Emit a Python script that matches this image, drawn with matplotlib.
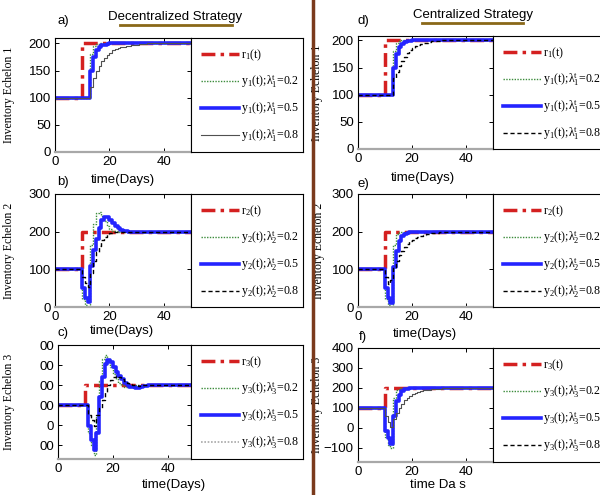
import matplotlib
matplotlib.use("Agg")
import matplotlib.pyplot as plt
from matplotlib.lines import Line2D

plt.rcParams['font.family'] = 'Liberation Sans'
plt.rcParams['mathtext.fontset'] = 'custom'
plt.rcParams['mathtext.rm'] = 'Liberation Serif'
plt.rcParams['mathtext.it'] = 'Liberation Serif'

# time axis (days)
t = list(range(51))

# a) decentralized, echelon 1
a_r = [100]*10 + [200]*41
a_02 = [100]*13 + [180, 196, 199] + [200]*35
a_05 = [100]*13 + [150, 175, 188, 194, 197, 198, 199] + [200]*31
a_08 = [100]*13 + [120, 136, 149, 159, 167, 174, 179, 183, 187, 189, 191, 193,
                   194, 196, 196, 197, 198, 198, 199, 199, 199] + [200]*17

# b) decentralized, echelon 2
b_r = [100]*10 + [200]*41
b_02 = [100]*10 + [20, 4, 0, 165, 220, 250, 253, 242, 228, 216, 208, 203, 201] + [200]*28
b_05 = [100]*10 + [50, 25, 12, 110, 152, 180, 210, 232, 240, 238, 232, 224, 216,
                   210, 205, 202, 201] + [200]*24
b_08 = [100]*10 + [80, 65, 52, 90, 122, 145, 163, 177, 187, 193, 196, 198, 199] + [200]*28

# c) decentralized, echelon 3
c_r = [100]*10 + [200]*41
c_02 = [100]*11 + [-40, -100, -150, 40, 220, 330, 352, 330, 290, 255, 228, 210, 198,
                   192, 190, 192, 195, 198, 199] + [200]*21
c_05 = [100]*11 + [-7, -73, -123, -40, 140, 240, 305, 325, 315, 290, 265, 245, 228,
                   212, 200, 192, 188, 186, 187, 190, 193, 196, 198, 199] + [200]*16
c_08 = [100]*11 + [52, 27, -7, 50, 85, 127, 165, 202, 227, 240, 243, 238, 228, 218,
                   210, 204, 200, 198, 197, 198, 199] + [200]*19

# d) centralized, echelon 1
d_r = [100]*10 + [200]*41
d_02 = [100]*13 + [180, 196, 199] + [200]*35
d_05 = [100]*13 + [150, 175, 188, 194, 197, 198, 199] + [200]*31
d_08 = [100]*13 + [130, 142, 153, 162, 170, 177, 182, 186, 189, 192, 194, 195, 196,
                   197, 198, 198, 199, 199] + [200]*20

# e) centralized, echelon 2
e_r = [100]*10 + [200]*41
e_02 = [100]*10 + [20, 4, 0, 165, 195, 199] + [200]*35
e_05 = [100]*10 + [50, 25, 10, 105, 150, 175, 188, 194, 197, 199] + [200]*31
e_08 = [100]*10 + [80, 62, 72, 105, 122, 137, 149, 159, 167, 174, 179, 183, 187, 189,
                   191, 193, 194, 196, 196, 197, 198, 198, 199, 199, 199] + [200]*16

# f) centralized, echelon 3
f_r = [100]*10 + [200]*41
f_02 = [100]*10 + [-45, -85, -100, 150, 190, 198] + [200]*35
f_05 = [100]*10 + [-15, -50, -80, 60, 135, 165, 185, 193, 197, 199] + [200]*31
f_08 = [100]*10 + [60, 30, 5, 45, 75, 100, 120, 140, 152, 162, 170, 176, 181, 185,
                   188, 190, 192, 194, 195, 196, 197, 198, 198, 199, 199] + [200]*16

lambdas = ['0.2', '0.5', '0.8']

RED = dict(color='#d42020', lw=2.5, ls=(0, (4, 1.5, 1, 1.5)))
GREEN = dict(color='#3c8c3c', lw=1.0, ls=(0, (1, 1)))
BLUE = dict(color='#2424ff', lw=2.6, ls='-')
DASH = dict(color='black', lw=1.0, ls=(0, (3, 2)))
THIN = dict(color='#505050', lw=0.8, ls='-')
GRAYDOT = dict(color='#a8a8a8', lw=1.2, ls=(0, (1, 1)))

W, H = 600, 495
fig = plt.figure(figsize=(6, 4.95), dpi=100)


def px_axes(l, tp, r, b):
    return fig.add_axes([l / W, 1 - b / H, (r - l) / W, (b - tp) / H])


yt1 = [0, 50, 100, 150, 200]
yt2 = [0, 100, 200, 300]
yt3 = [-100, 0, 100, 200, 300, 400]

panels = [
    dict(k='a)', d=(a_r, a_02, a_05, a_08), n=1, box=(55, 38, 191, 152), lr=303,
         ylim=(0, 210), yt=yt1, ytl=None, s8=THIN, l8=THIN,
         xl='time(Days)', xlp=(123, 180), kp=(63, 21), ylx=15, xlim=(0, 50)),
    dict(k='b)', d=(b_r, b_02, b_05, b_08), n=2, box=(55, 194, 191, 307), lr=303,
         ylim=(0, 300), yt=yt2, ytl=None, s8=DASH, l8=DASH,
         xl='time(Days)', xlp=(122, 331), kp=(63, 182), ylx=15, xlim=(0, 50)),
    dict(k='c)', d=(c_r, c_02, c_05, c_08), n=3, box=(58, 345, 191, 459), lr=303,
         ylim=(-170, 400), yt=yt3, ytl=['00', '0', '00', '00', '00', '00'],
         s8=DASH, l8=GRAYDOT,
         xl='time(Days)', xlp=(174, 485), kp=(63, 333), ylx=15, xlim=(0, 48.5)),
    dict(k='d)', d=(d_r, d_02, d_05, d_08), n=1, box=(358, 36, 493, 149), lr=640,
         ylim=(0, 208), yt=yt1, ytl=None, s8=DASH, l8=DASH,
         xl='time(Days)', xlp=(423, 178), kp=(363, 21), ylx=323, xlim=(0, 50)),
    dict(k='e)', d=(e_r, e_02, e_05, e_08), n=2, box=(358, 194, 493, 307), lr=640,
         ylim=(0, 300), yt=yt2, ytl=None, s8=DASH, l8=DASH,
         xl='time(Days)', xlp=(425, 334), kp=(363, 184), ylx=325, xlim=(0, 50)),
    dict(k='f)', d=(f_r, f_02, f_05, f_08), n=3, box=(358, 348, 493, 462), lr=640,
         ylim=(-170, 400), yt=yt3, ytl=None, s8=THIN, l8=DASH,
         xl='time Da s', xlp=(438, 485), kp=(363, 337), ylx=323, xlim=(0, 50)),
]

for p in panels:
    l, tp, r, b = p['box']
    ax = px_axes(l, tp, r, b)
    rr, y2, y5, y8 = p['d']
    ax.step(t, rr, where='post', **RED)
    ax.step(t, y2, where='post', **GREEN)
    ax.step(t, y5, where='post', **BLUE)
    ax.step(t, y8, where='post', **p['s8'])
    ax.set_xlim(*p['xlim'])
    ax.set_ylim(*p['ylim'])
    ax.set_xticks([0, 20, 40])
    ax.set_yticks(p['yt'])
    if p['ytl'] is not None:
        ax.set_yticklabels(p['ytl'])
    ax.tick_params(direction='in', length=3, top=True, right=True,
                   labelsize=9.5, pad=3, width=0.7)
    for sp in ax.spines.values():
        sp.set_linewidth(0.8)
    ax.spines['bottom'].set_color('#a8a8a8')
    ax.spines['bottom'].set_linewidth(1.6)

    n = p['n']
    ax.set_ylabel('Inventory Echelon %d' % n, family='Liberation Serif', fontsize=8.5)
    ax.yaxis.set_label_coords((p['ylx'] - l) / (r - l), 0.5)
    ax.set_xlabel(p['xl'], fontsize=9.5)
    ax.xaxis.set_label_coords((p['xlp'][0] - l) / (r - l), -(p['xlp'][1] - b) / (b - tp))
    ax.xaxis.label.set_va('center')
    fig.text(p['kp'][0] / W, 1 - p['kp'][1] / H, p['k'], fontsize=9.5,
             ha='center', va='center')

    # legend box to the right of the plot
    lax = px_axes(r, tp, p['lr'], b)
    lax.set_xticks([])
    lax.set_yticks([])
    for sp in lax.spines.values():
        sp.set_linewidth(0.8)
    handles = [Line2D([], [], **RED), Line2D([], [], **GREEN),
               Line2D([], [], **BLUE), Line2D([], [], **p['l8'])]
    labels = ['r$_%d$(t)' % n] + ['y$_%d$(t);λ$_%d^\\mathrm{t}$=%s' % (n, n, v) for v in lambdas]
    lax.legend(handles, labels, loc='upper left', bbox_to_anchor=(0.0, 1.0),
               frameon=False, prop=dict(family='Liberation Serif', size=8.6),
               handlelength=3.2, handletextpad=0.15, labelspacing=0.85,
               borderpad=0.5, borderaxespad=0.3)

# column titles
fig.text(175 / W, 1 - 17 / H, 'Decentralized Strategy', fontsize=9.5, ha='center', va='center')
fig.add_artist(Line2D([120 / W, 232 / W], [1 - 24.5 / H] * 2, color='#8a6818', lw=2))
fig.text(473 / W, 1 - 15 / H, 'Centralized Strategy', fontsize=9.5, ha='center', va='center')
fig.add_artist(Line2D([422 / W, 523 / W], [1 - 23 / H] * 2, color='#8a6818', lw=2))

# divider between the two columns
fig.add_artist(Line2D([313 / W] * 2, [0, 1], color='#7a3a1c', lw=2.5))

fig.savefig('out.png', dpi=100)
